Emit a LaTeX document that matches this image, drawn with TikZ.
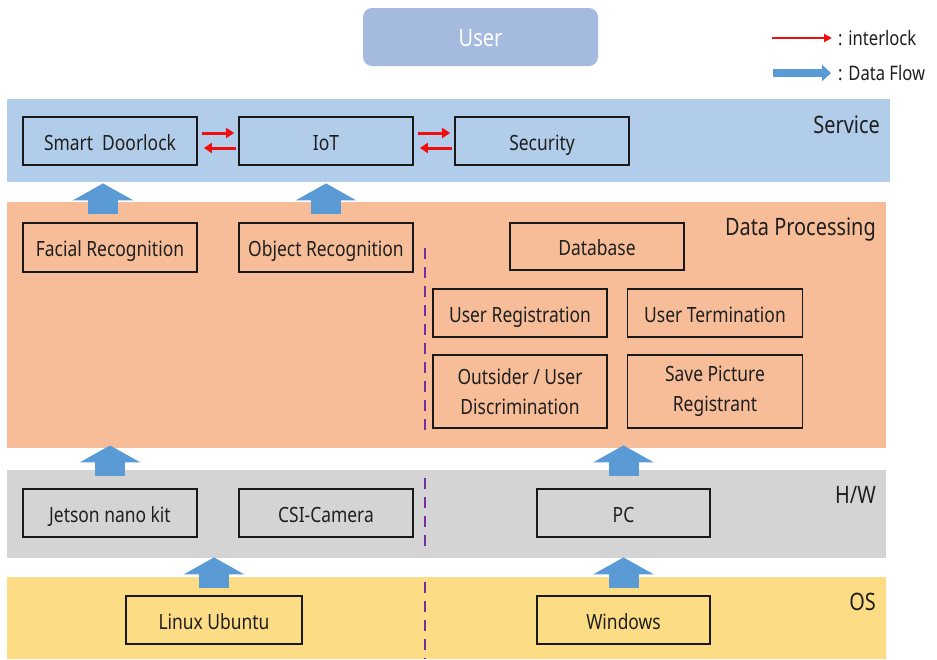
\documentclass[tikz,border=0pt]{standalone}
\usepackage{fontspec}
\setmainfont{Noto Sans}[FakeStretch=0.83]
\usetikzlibrary{arrows.meta,calc}

\definecolor{userfill}{HTML}{A4BADF}
\definecolor{svcfill}{HTML}{B2CDE9}
\definecolor{dpfill}{HTML}{F6BD98}
\definecolor{hwfill}{HTML}{D4D4D4}
\definecolor{osfill}{HTML}{FCDC85}
\definecolor{flowblue}{HTML}{5B9BD5}
\definecolor{divider}{HTML}{7030A0}
\definecolor{lockred}{HTML}{F00F0F}

\tikzset{
  band/.style={draw=none, inner sep=0pt, anchor=north west},
  box/.style={draw=black!90, line width=1.8pt, minimum width=174pt, minimum height=48pt,
    inner sep=0pt, align=center, text=black!88, font=\fontsize{21}{30}\selectfont},
  onebox/.style={box, text height=21pt, text depth=3pt},
  layerlabel/.style={inner sep=0pt, anchor=base east, text=black!88, font=\fontsize{24}{28}\selectfont},
  legendtext/.style={inner sep=0pt, anchor=west, text=black!88, font=\fontsize{20}{24}\selectfont},
  flow/.style={draw=flowblue, line width=30pt, -{Triangle[width=60pt,length=17pt]}},
  interlock/.style={draw=lockred, line width=3pt, -{Triangle[width=10pt,length=8pt]}},
  dividerline/.style={draw=divider, line width=2.5pt, dash pattern=on 11pt off 8pt},
}

\begin{document}
\begin{tikzpicture}[x=1pt,y=-1pt]
\useasboundingbox (0,0) rectangle (937,659);
\fill[white] (0,0) rectangle (937,659);

% layer bands
\node[band, fill=svcfill, minimum width=883pt, minimum height=83pt] (svc) at (7,99) {};
\node[band, fill=dpfill, minimum width=879pt, minimum height=246pt] (dp) at (7,202) {};
\node[band, fill=hwfill, minimum width=879pt, minimum height=88pt] (hw) at (7,470) {};
\node[band, fill=osfill, minimum width=879pt, minimum height=82pt] (os) at (7,577) {};

% layer names
\node[layerlabel] (svclabel) at (880,133) {Service};
\node[layerlabel] (dplabel) at (876,235) {Data Processing};
\node[layerlabel] (hwlabel) at (876,503) {H/W};
\node[layerlabel] (oslabel) at (876,610) {OS};

% user
\node[fill=userfill, rounded corners=9pt, minimum width=235pt, minimum height=58pt,
  inner sep=0pt, text=white, text height=20pt, text depth=2pt,
  font=\fontsize{24}{28}\selectfont] (user) at (480.5,37) {User};

% legend
\coordinate (lg1a) at (772,38);
\coordinate (lg1b) at (832,38);
\coordinate (lg2a) at (773,73);
\coordinate (lg2b) at (831,73);
\draw[draw=lockred, line width=2.5pt, -{Triangle[width=8pt,length=8pt]}] (lg1a) -- (lg1b);
\draw[draw=flowblue, line width=8pt, -{Triangle[width=16pt,length=9pt]}] (lg2a) -- (lg2b);
\node[legendtext] (lgt1) at (838,38) {: interlock};
\node[legendtext] (lgt2) at (838,73) {: Data Flow};

% service layer
\node[onebox] (doorlock) at (110,141) {Smart~ Doorlock};
\node[onebox] (iot) at (326,141) {IoT};
\node[onebox] (security) at (542,141) {Security};

% data processing layer
\node[onebox, minimum height=49pt] (facial) at (110,247.5) {Facial Recognition};
\node[onebox, minimum height=49pt] (object) at (326,247.5) {Object Recognition};
\node[onebox, minimum height=47pt] (database) at (597,246.5) {Database};
\node[onebox] (userreg) at (520,313) {User Registration};
\node[onebox, minimum width=175pt] (userterm) at (715,313) {User Termination};
\node[box, minimum height=73pt] (outsider) at (520,391.5) {Outsider / User\\Discrimination};
\node[box, minimum width=175pt, minimum height=73pt] (savepic) at (715,391.5) {Save Picture\\Registrant};

% hardware layer
\node[onebox] (jetson) at (110,513) {Jetson nano kit};
\node[onebox] (csi) at (326,513) {CSI-Camera};
\node[onebox, minimum width=173pt] (pc) at (623.5,513) {PC};

% os layer
\node[onebox, minimum width=176pt] (linux) at (214,620) {Linux Ubuntu};
\node[onebox, minimum width=173pt] (windows) at (623.5,620) {Windows};

% interlock arrows
\draw[interlock] ([xshift=4pt,yshift=8pt]doorlock.east) -- ([xshift=-4pt,yshift=8pt]iot.west);
\draw[interlock] ([xshift=-2pt,yshift=-7pt]iot.west) -- ([xshift=6pt,yshift=-7pt]doorlock.east);
\draw[interlock] ([xshift=4pt,yshift=8pt]iot.east) -- ([xshift=-4pt,yshift=8pt]security.west);
\draw[interlock] ([xshift=-2pt,yshift=-7pt]security.west) -- ([xshift=6pt,yshift=-7pt]iot.east);

% data flow arrows
\draw[flow] ([xshift=-7pt,yshift=8pt]facial.north) -- ([xshift=-7pt,yshift=-1pt]facial.north |- svc.south);
\draw[flow] ([yshift=8pt]object.north) -- ([yshift=-1pt]object.north |- svc.south);
\draw[flow] ([yshift=12pt]jetson.north) -- ([yshift=3pt]jetson.north |- dp.south);
\draw[flow] ([yshift=12pt]pc.north) -- ([yshift=3pt]pc.north |- dp.south);
\draw[flow] ([yshift=7pt]linux.north) -- ([yshift=1pt]linux.north |- hw.south);
\draw[flow] ([yshift=7pt]windows.north) -- ([yshift=1pt]windows.north |- hw.south);

% divider between the embedded side and the PC side
\draw[dividerline] (425,248) -- (425,433);
\draw[dividerline] (425,478) -- (425,553);
\draw[dividerline] (425,582) -- (425,659);
\end{tikzpicture}
\end{document}
